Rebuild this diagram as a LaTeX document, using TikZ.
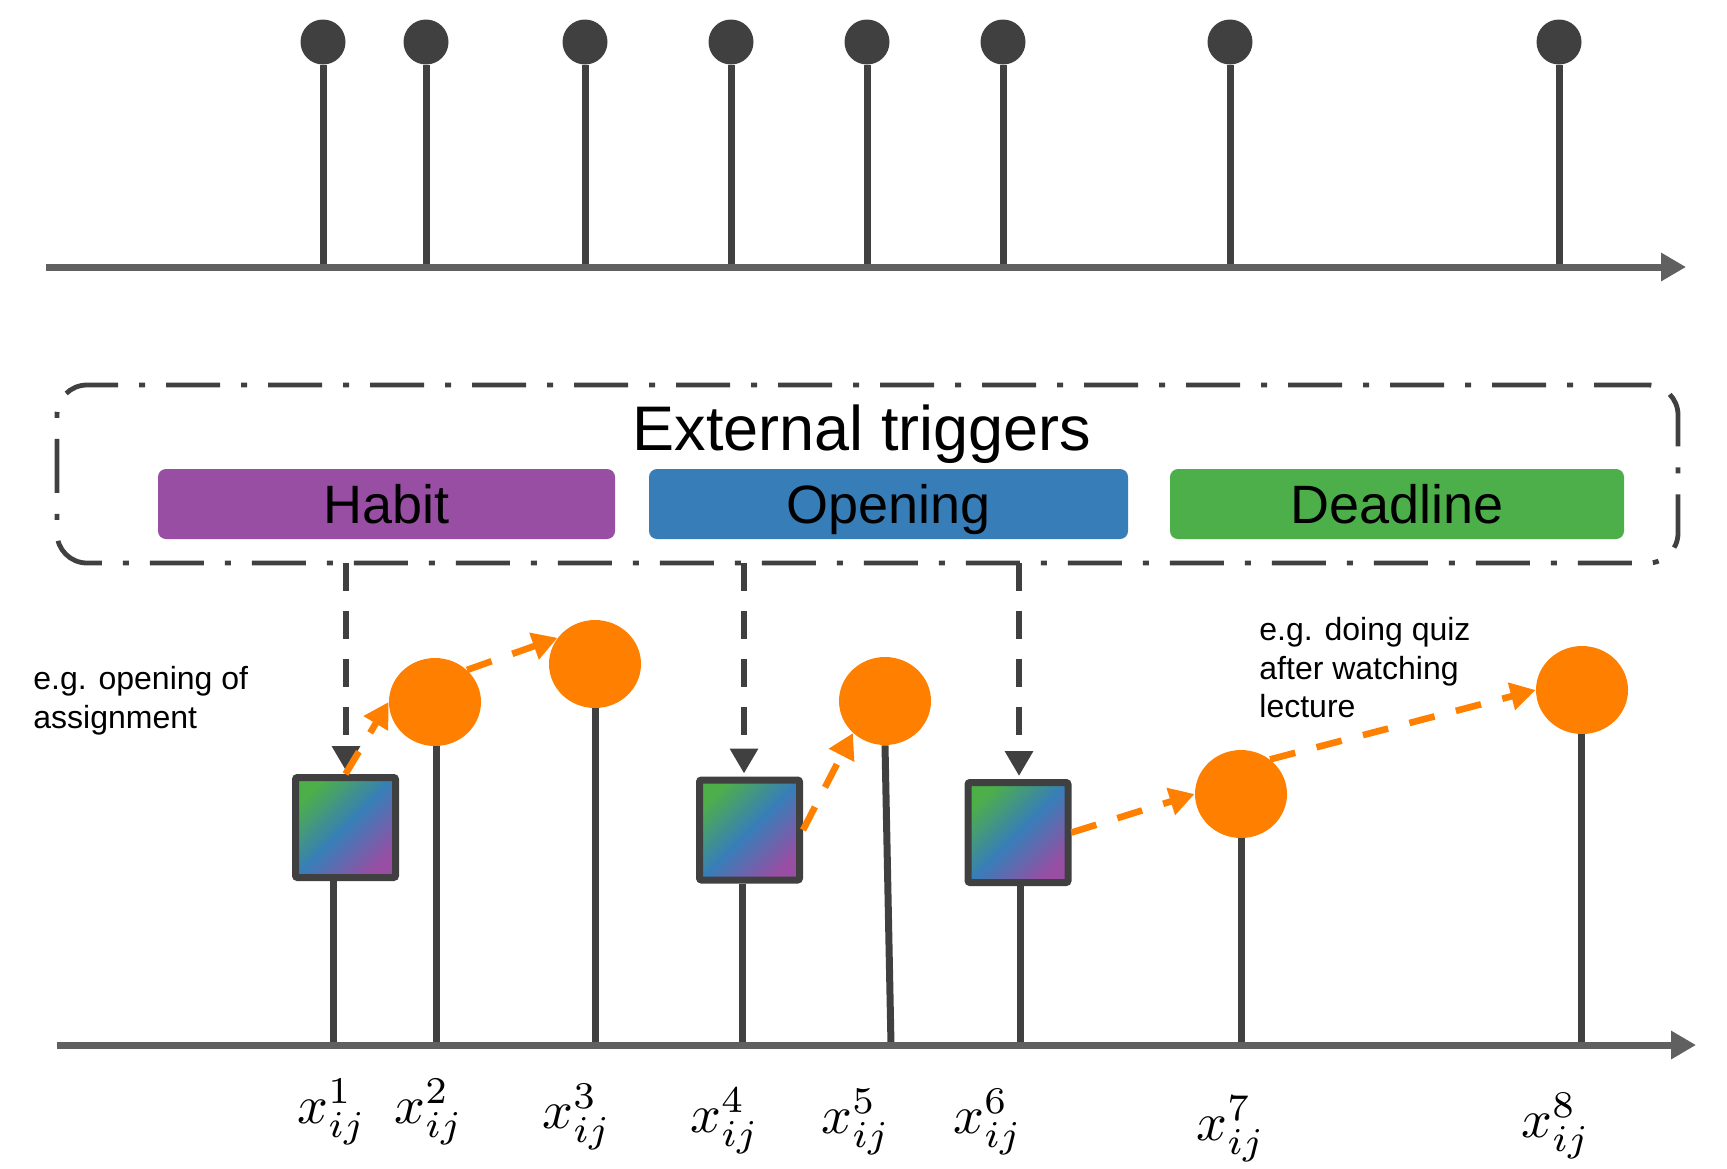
\documentclass[tikz,border=0pt]{standalone}
\usepackage[no-math]{fontspec}
\setmainfont{Liberation Sans}
\usetikzlibrary{arrows.meta,shapes.geometric}
\definecolor{dk}{HTML}{404040}
\definecolor{axc}{HTML}{606060}
\definecolor{hab}{HTML}{984EA3}
\definecolor{opn}{HTML}{377EB8}
\definecolor{ddl}{HTML}{4DAF4A}
\definecolor{org}{HTML}{FF8000}
\begin{document}
\begin{tikzpicture}[x=0.5pt,y=-0.5pt,
  stem/.style={draw=dk, line width=3.5pt},
  axisline/.style={draw=axc, line width=3.5pt, -{Triangle[length=12.5pt,width=13.5pt]}},
  topdot/.style={circle, fill=dk, minimum size=22.5pt, inner sep=0pt},
  trig/.style={rectangle, rounded corners=4pt, minimum height=35pt, inner sep=0pt,
    text height=19.3pt, text depth=0pt, font=\fontsize{27}{30}\selectfont},
  extbox/.style={rectangle, draw=dk, line width=2.4pt, rounded corners=15pt,
    dash pattern=on 27pt off 10.5pt on 3pt off 10.5pt, inner sep=0pt},
  sqbox/.style={rectangle, draw=dk, line width=3.5pt, rounded corners=1pt,
    minimum size=50pt, inner sep=0pt,
    left color=ddl, right color=hab, middle color=opn, shading angle=45},
  ocirc/.style={ellipse, fill=org, minimum width=46pt, minimum height=44pt, inner sep=0pt},
  gdash/.style={draw=dk, line width=3.3pt, dash pattern=on 14pt off 10pt,
    -{Triangle[length=12.5pt,width=13.5pt]}, shorten >=1.5pt},
  odash/.style={draw=org, line width=3.3pt, dash pattern=on 13pt off 11pt,
    -{Triangle[length=12.5pt,width=13.5pt]}},
  xlab/.style={scale=2.7, inner sep=0pt, anchor=base},
  note/.style={font=\fontsize{16}{19.2}\selectfont, align=left, inner sep=0pt, anchor=north west}
]
\useasboundingbox (0,0) rectangle (1727,1168);

% ---------- top timeline ----------
\coordinate (tl) at (46,267);
\coordinate (tr) at (1686,267);
\foreach \i/\x in {1/323,2/426,3/585,4/731,5/867,6/1003,7/1230,8/1559}{
  \node[topdot] (t\i) at (\x,42) {};
  \coordinate (ta\i) at (\x,267);
  \draw[stem] (t\i.south) -- (ta\i);
}
\draw[axisline] (tl) -- (tr);

% ---------- external triggers box ----------
\node[extbox, minimum width=810.5pt, minimum height=89pt] (ext) at (867.5,474) {};
\node[font=\fontsize{31.5}{36}\selectfont, anchor=base, inner sep=0pt] (et) at (862,450) {External triggers};
\node[trig, fill=hab, minimum width=228.5pt] (habit) at (386.5,504) {Habit};
\node[trig, fill=opn, minimum width=239.5pt] (opening) at (888.5,504) {Opening};
\node[trig, fill=ddl, minimum width=227pt] (deadline) at (1397,504) {Deadline};

% ---------- lower events ----------
\node[sqbox] (sq1) at (345.5,827.5) {};
\node[sqbox] (sq2) at (749.5,830) {};
\node[sqbox] (sq3) at (1018,832.5) {};
\node[ocirc] (c2) at (435,702) {};
\node[ocirc] (c3) at (595,664) {};
\node[ocirc] (c5) at (885,701) {};
\node[ocirc] (c7) at (1241,794) {};
\node[ocirc] (c8) at (1582,690) {};

% bottom axis and stems
\coordinate (bl) at (57,1045);
\coordinate (br) at (1696,1045);
\coordinate (b1) at (333,1045);
\coordinate (b2) at (436,1045);
\coordinate (b3) at (595,1045);
\coordinate (b4) at (742,1045);
\coordinate (b5) at (891,1045);
\coordinate (b6) at (1020,1045);
\coordinate (b7) at (1241,1045);
\coordinate (b8) at (1581,1045);
\draw[stem] (b1 |- sq1.south) -- (b1);
\draw[stem] (b2 |- c2.south) -- (b2);
\draw[stem] (b3 |- c3.south) -- (b3);
\draw[stem] (b4 |- sq2.south) -- (b4);
\draw[stem] (c5.south) -- (b5);
\draw[stem] (b6 |- sq3.south) -- (b6);
\draw[stem] (b7 |- c7.south) -- (b7);
\draw[stem] (b8 |- c8.south) -- (b8);
\draw[axisline] (bl) -- (br);

% trigger arrows
\coordinate (g1) at (346,563);
\coordinate (g2) at (744,563);
\coordinate (g3) at (1019,563);
\draw[gdash] (g1) -- (g1 |- sq1.north);
\draw[gdash] (g2) -- (g2 |- sq2.north);
\draw[gdash] (g3) -- (g3 |- sq3.north);

% orange follow-up arrows
\draw[odash] (sq1.north) -- (c2.west);
\draw[odash] (c2.45) -- (c3.145);
\draw[odash] (sq2.east) -- (c5.225);
\draw[odash] (sq3.east) -- (c7.west);
\draw[odash] (c7.50) -- (c8.west);

% notes
\node[note] (n1) at (33,666) {e.g. opening of\\assignment};
\node[note] (n2) at (1259,617) {e.g. doing quiz\\after watching\\lecture};

% labels
\node[xlab] (l1) at (332,1123) {$x_{ij}^{1}$};
\node[xlab] (l2) at (429,1123) {$x_{ij}^{2}$};
\node[xlab] (l3) at (577,1128) {$x_{ij}^{3}$};
\node[xlab] (l4) at (725,1132) {$x_{ij}^{4}$};
\node[xlab] (l5) at (856,1133) {$x_{ij}^{5}$};
\node[xlab] (l6) at (988,1133) {$x_{ij}^{6}$};
\node[xlab] (l7) at (1231,1140) {$x_{ij}^{7}$};
\node[xlab] (l8) at (1556,1137) {$x_{ij}^{8}$};
\end{tikzpicture}
\end{document}
